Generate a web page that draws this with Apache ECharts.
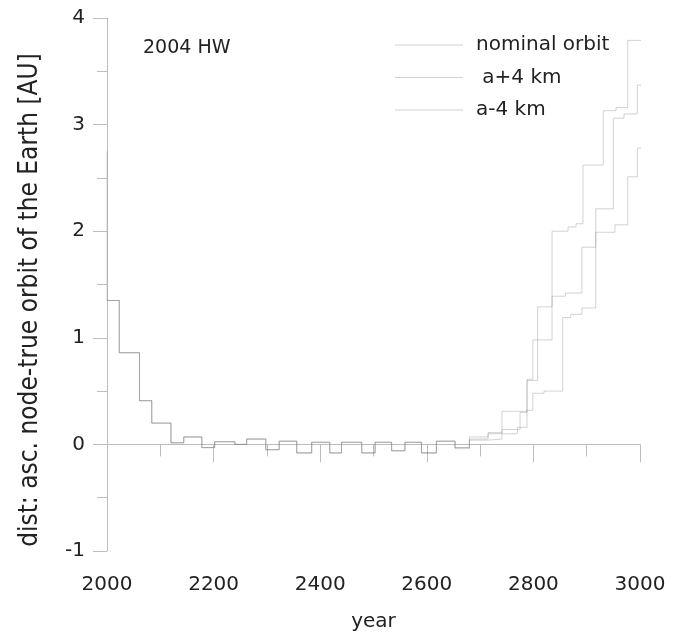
<!DOCTYPE html>
<html>
<head>
<meta charset="utf-8">
<script src="https://cdn.jsdelivr.net/npm/echarts@6/dist/echarts.min.js"></script>
<style>html,body{margin:0;padding:0;background:#fff;}#c{width:677px;height:637px;}</style>
</head>
<body>
<div id="c"></div>
<script>
// ---- data (year where a step begins, value held until next step) ----
const commonYears  = [2000, 2023, 2061, 2084, 2120, 2144, 2178, 2202, 2240, 2262, 2298, 2323, 2356, 2384, 2418, 2440, 2478, 2503, 2534, 2559, 2590, 2618];
const commonValues = [1.35, 0.86, 0.41, 0.20, 0.015, 0.07, -0.03, 0.025, 0.0, 0.05, -0.05, 0.03, -0.08, 0.02, -0.08, 0.02, -0.08, 0.02, -0.06, 0.02, -0.08, 0.03];

const nominalStartValue = 2.75;
const nominalYears  = [2653, 2680, 2715, 2741, 2788, 2799, 2835, 2865, 2880, 2893, 2931, 2955, 2977, 3010];
const nominalValues = [-0.03, 0.07, 0.11, 0.31, 0.61, 0.98, 2.0, 2.04, 2.07, 2.62, 3.13, 3.16, 3.79, 3.79];

const plusYears  = [2653, 2680, 2715, 2741, 2775, 2788, 2808, 2835, 2860, 2891, 2917, 2950, 2970, 2995, 3010];
const plusValues = [-0.03, 0.05, 0.10, 0.14, 0.30, 0.60, 1.29, 1.39, 1.42, 1.85, 2.21, 3.06, 3.10, 3.37, 3.37];

const minusYears  = [2653, 2680, 2715, 2741, 2770, 2788, 2799, 2820, 2855, 2870, 2891, 2917, 2953, 2977, 2995, 3010];
const minusValues = [-0.04, 0.04, 0.05, 0.10, 0.16, 0.32, 0.48, 0.50, 1.19, 1.22, 1.28, 1.99, 2.06, 2.51, 2.78, 2.78];

const seriesNames = ['nominal orbit', ' a+4 km', 'a-4 km'];
const xTicks = [2000, 2200, 2400, 2600, 2800, 3000];
const yTicks = [-1, 0, 1, 2, 3, 4];
const yAxisTitle = 'dist: asc. node-true orbit of the Earth [AU]';

function build(years, values, startVal) {
  const d = [];
  if (startVal !== undefined) d.push([commonYears[0], startVal]);
  commonYears.forEach((y, i) => d.push([y, commonValues[i]]));
  years.forEach((y, i) => d.push([y, values[i]]));
  return d;
}

const lineColor = 'rgba(125,125,125,0.34)';
const axisColor = '#bdbdbd';
const font = 'DejaVu Sans';

const chart = echarts.init(document.getElementById('c'), null, {renderer: 'canvas'});
const mk = (name, data) => ({
  name, type: 'line', step: 'end', data, symbol: 'none', clip: false,
  lineStyle: {color: lineColor, width: 1}, itemStyle: {color: '#c8c8c8'}, animation: false
});

chart.setOption({
  animation: false,
  title: {text: '2004 HW', left: 138, top: 34,
    textStyle: {fontFamily: font, fontSize: 19, fontWeight: 'normal', color: '#222'}},
  legend: {
    show: true, icon: 'rect', padding: 0,
    orient: 'vertical', left: 395, top: 35, itemWidth: 68, itemHeight: 1, itemGap: 12.5,
    itemStyle: {color: '#d2d2d2'},
    textStyle: {fontFamily: font, fontSize: 20, color: '#222', padding: [0, 0, 0, 8]},
    data: seriesNames
  },
  graphic: [{
    type: 'text', x: 30, y: 300, rotation: Math.PI / 2,
    style: {text: yAxisTitle, fill: '#222', align: 'center', verticalAlign: 'middle',
      font: '26px "DejaVu Sans Condensed", "DejaVu Sans"'}
  }],
  grid: {left: 107, right: 37, top: 18, bottom: 84, containLabel: false},
  xAxis: {
    type: 'value', min: xTicks[0], max: xTicks[xTicks.length - 1], interval: 200,
    name: 'year', nameLocation: 'middle', nameGap: 61,
    nameTextStyle: {fontFamily: font, fontSize: 20, color: '#222'},
    axisLine: {show: true, lineStyle: {color: axisColor, width: 1}},
    axisTick: {show: true, inside: false, length: 18, lineStyle: {color: axisColor}},
    minorTick: {show: true, splitNumber: 2, length: 12, lineStyle: {color: axisColor}},
    splitLine: {show: false},
    axisLabel: {fontFamily: font, fontSize: 20, color: '#222', margin: 24, formatter: v => String(v)}
  },
  yAxis: {
    type: 'value', min: yTicks[0], max: yTicks[yTicks.length - 1], interval: 1,
    axisLine: {show: true, lineStyle: {color: axisColor, width: 1}},
    axisTick: {show: true, inside: false, length: 14, lineStyle: {color: axisColor}},
    minorTick: {show: true, splitNumber: 2, length: 10, lineStyle: {color: axisColor}},
    splitLine: {show: false},
    axisLabel: {fontFamily: font, fontSize: 20, color: '#222', margin: 22, formatter: v => String(v)}
  },
  series: [
    mk(seriesNames[0], build(nominalYears, nominalValues, nominalStartValue)),
    mk(seriesNames[1], build(plusYears, plusValues)),
    mk(seriesNames[2], build(minusYears, minusValues))
  ]
});
</script>
</body>
</html>
